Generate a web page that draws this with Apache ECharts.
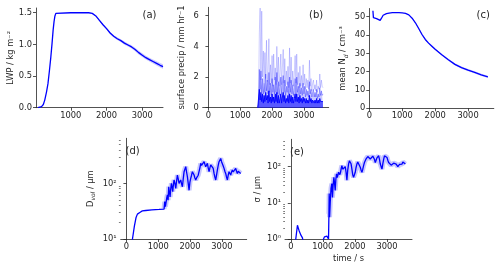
<!DOCTYPE html>
<html>
<head>
<meta charset="utf-8">
<script src="https://cdn.jsdelivr.net/npm/echarts@6/dist/echarts.min.js"></script>
<style>
  html, body { margin: 0; padding: 0; background: #fff; }
  #main { width: 500px; height: 269px; }
</style>
</head>
<body>
<div id="main"></div>
<script>
// (a) liquid water path
var lwpTime = [80, 130, 180, 230, 270, 320, 360, 400, 440, 475, 505, 530, 555, 580, 610, 1000, 1500, 1600, 1700, 1800,
               1900, 2000, 2100, 2200, 2300, 2400, 2500, 2600, 2700, 2800, 2900, 3000, 3100, 3200, 3300, 3400, 3500, 3580];
var lwpValue = [0, 0.003, 0.016, 0.05, 0.12, 0.25, 0.38, 0.58, 0.8, 1.02, 1.23, 1.36, 1.45, 1.49, 1.5, 1.5, 1.5, 1.49, 1.45, 1.38,
                1.31, 1.25, 1.18, 1.13, 1.09, 1.06, 1.02, 0.99, 0.96, 0.92, 0.87, 0.83, 0.79, 0.76, 0.73, 0.70, 0.67, 0.65];
var lwpSpread = [0, 0, 0, 0, 0, 0, 0, 0, 0, 0, 0, 0, 0, 0, 0, 0, 0, 0.005, 0.01, 0.012,
                 0.015, 0.018, 0.02, 0.02, 0.022, 0.022, 0.024, 0.025, 0.025, 0.027, 0.028, 0.03, 0.03, 0.03, 0.032, 0.033, 0.035, 0.035];

// (b) surface precipitation
var precipTime = [1550, 1575, 1600, 1625, 1650, 1675, 1700, 1725, 1750, 1775, 1800, 1825, 1850, 1875, 1900, 1925, 1950, 1975, 2000, 2025,
                  2050, 2075, 2100, 2125, 2150, 2175, 2200, 2225, 2250, 2275, 2300, 2325, 2350, 2375, 2400, 2425, 2450, 2475, 2500, 2525,
                  2550, 2575, 2600, 2625, 2650, 2675, 2700, 2725, 2750, 2775, 2800, 2825, 2850, 2875, 2900, 2925, 2950, 2975, 3000, 3025,
                  3050, 3075, 3100, 3125, 3150, 3175, 3200, 3225, 3250, 3275, 3300, 3325, 3350, 3375, 3400, 3425, 3450, 3475, 3500, 3525,
                  3550, 3575, 3600];
var precipMax = [0, 0.3, 4.9, 6.5, 1.8, 6.3, 2.0, 3.7, 1.6, 3.6, 1.9, 4.4, 1.7, 2.4, 4.5, 1.5, 2.8, 1.6, 3.4, 1.4,
                 3.5, 1.8, 2.6, 1.5, 4.0, 1.7, 3.3, 1.4, 2.3, 3.5, 1.5, 2.6, 3.8, 1.6, 3.2, 1.4, 2.4, 1.5, 2.7, 1.3,
                 3.9, 1.6, 3.3, 1.5, 2.4, 1.4, 2.2, 3.4, 1.6, 3.5, 1.5, 2.3, 1.3, 2.7, 1.4, 2.1, 1.3, 2.8, 1.5, 2.2,
                 1.2, 1.9, 1.3, 1.8, 1.2, 3.1, 1.4, 1.9, 1.1, 1.6, 1.8, 1.2, 1.5, 1.1, 1.8, 1.0, 1.4, 1.2, 2.2, 1.3,
                 1.8, 1.4, 1.3];
var precipHigh = [0, 0.2, 2.5, 1.2, 2.4, 1.0, 1.9, 0.9, 1.6, 1.0, 2.2, 1.1, 1.8, 0.9, 2.3, 1.0, 1.6, 0.8, 1.9, 1.0,
                  1.5, 0.9, 2.0, 1.0, 2.3, 0.9, 1.7, 0.8, 1.5, 2.0, 0.9, 1.6, 2.1, 1.0, 1.8, 0.8, 1.4, 1.0, 1.7, 0.8,
                  2.0, 1.0, 1.8, 0.9, 1.5, 0.8, 1.3, 1.9, 0.9, 2.0, 1.0, 1.4, 0.8, 1.6, 0.9, 1.3, 0.8, 1.6, 0.9, 1.4,
                  0.7, 1.2, 0.8, 1.1, 0.7, 1.7, 0.9, 1.2, 0.7, 1.0, 1.2, 0.7, 1.0, 0.7, 1.2, 0.6, 0.9, 0.7, 1.3, 0.8,
                  1.1, 0.8, 0.9];
var precipMean = [0, 0.1, 1.2, 0.5, 1.0, 0.4, 0.9, 0.3, 0.8, 0.4, 1.0, 0.5, 0.8, 0.3, 1.1, 0.4, 0.7, 0.3, 0.9, 0.4,
                  0.7, 0.3, 0.9, 0.4, 1.0, 0.3, 0.8, 0.3, 0.6, 0.9, 0.3, 0.7, 1.0, 0.4, 0.8, 0.3, 0.6, 0.4, 0.8, 0.3,
                  0.9, 0.4, 0.8, 0.3, 0.7, 0.3, 0.6, 0.9, 0.4, 0.9, 0.4, 0.7, 0.3, 0.8, 0.4, 0.6, 0.3, 0.7, 0.4, 0.6,
                  0.3, 0.6, 0.3, 0.5, 0.3, 0.8, 0.4, 0.6, 0.3, 0.5, 0.6, 0.3, 0.5, 0.3, 0.6, 0.3, 0.5, 0.3, 0.6, 0.4,
                  0.5, 0.3, 0.4];

// (c) mean droplet number
var ndTime = [110, 125, 150, 220, 280, 330, 370, 420, 470, 520, 600, 700, 800, 900, 1000, 1100, 1200, 1300, 1400, 1500,
              1600, 1700, 1800, 1900, 2000, 2200, 2400, 2600, 2800, 3000, 3200, 3400, 3600];
var ndValue = [53.3, 49.5, 49.3, 49.0, 48.5, 48.0, 49.2, 50.8, 51.4, 51.7, 52.0, 52.2, 52.2, 52.2, 52.1, 51.8, 51.0, 49.2, 46.7, 43.6,
               40.3, 37.6, 35.6, 33.9, 32.2, 29.3, 26.5, 24.0, 22.2, 20.8, 19.6, 18.3, 17.2];
var ndSpread = [0, 0, 0, 0, 0, 0, 0, 0, 0, 0, 0, 0, 0, 0, 0, 0, 0, 0.2, 0.3, 0.4,
                0.5, 0.5, 0.5, 0.5, 0.5, 0.5, 0.6, 0.6, 0.6, 0.6, 0.6, 0.6, 0.6];

// (d) volume mean diameter
var dTime = [150, 190, 250, 300, 345, 420, 500, 607, 800, 1026, 1183, 1204, 1225, 1246, 1267, 1288, 1309, 1330, 1351, 1372,
             1393, 1414, 1435, 1455, 1476, 1497, 1523, 1550, 1576, 1602, 1628, 1654, 1680, 1707, 1733, 1759, 1785, 1812, 1838, 1864,
             1890, 1916, 1942, 1969, 1995, 2021, 2047, 2073, 2100, 2126, 2152, 2178, 2204, 2230, 2256, 2283, 2309, 2335, 2361, 2387,
             2413, 2440, 2466, 2492, 2518, 2544, 2570, 2597, 2623, 2649, 2675, 2702, 2728, 2754, 2780, 2806, 2832, 2859, 2885, 2911,
             2937, 2963, 2990, 3016, 3042, 3068, 3094, 3120, 3146, 3173, 3199, 3225, 3251, 3277, 3303, 3330, 3356, 3382, 3408, 3434,
             3460, 3487, 3513, 3539, 3565, 3592];
var dVol = [5, 10, 17, 24, 28, 30, 32, 32.5, 33.3, 34, 34.5, 47, 38, 35.5, 55, 62, 50, 87, 70, 57,
            80, 100, 85, 71, 95, 115, 100, 81, 110, 141, 120, 100, 108, 115, 98, 87, 120, 162, 180, 199,
            160, 132, 100, 75, 105, 123, 140, 162, 150, 141, 125, 115, 125, 132, 140, 151, 190, 229, 210, 199,
            220, 245, 220, 199, 215, 229, 190, 162, 190, 214, 222, 229, 185, 151, 130, 115, 140, 174, 210, 245,
            265, 280, 245, 229, 205, 186, 165, 151, 130, 115, 140, 162, 150, 141, 160, 174, 160, 151, 170, 186,
            165, 151, 165, 174, 160, 151];

// (e) spectral width
var eTime = [140, 156, 208, 235, 260, 290, 312, 340, 365, 390, 415, 440, 980, 1021, 1052, 1090, 1125, 1160, 1177, 1190,
             1198, 1210, 1230, 1255, 1281, 1300, 1320, 1344, 1365, 1385, 1406, 1427, 1448, 1469, 1490, 1510, 1531, 1552, 1573, 1594,
             1620, 1646, 1672, 1698, 1724, 1750, 1776, 1802, 1828, 1854, 1880, 1906, 1932, 1958, 1984, 2010, 2036, 2062, 2088, 2115,
             2141, 2167, 2193, 2219, 2245, 2271, 2297, 2323, 2349, 2375, 2401, 2427, 2453, 2479, 2505, 2531, 2557, 2583, 2609, 2635,
             2661, 2687, 2713, 2740, 2766, 2792, 2818, 2844, 2870, 2896, 2922, 2948, 2974, 3000, 3026, 3052, 3078, 3104, 3130, 3156,
             3182, 3208, 3234, 3260, 3286, 3312, 3338, 3365, 3391, 3417, 3443, 3469, 3495, 3521, 3547, 3573];
var eSigma = [0.5, 1.0, 2.4, 2.0, 1.7, 1.5, 1.3, 1.2, 1.07, 1.15, 1.0, 0.4, 0.4, 1.0, 1.15, 1.18, 1.2, 1.15, 1.0, 5,
              18, 4, 10, 25, 34, 14, 30, 51, 35, 22, 45, 63, 50, 58, 70, 78, 60, 70, 90, 107,
              85, 78, 95, 100, 70, 42, 80, 118, 145, 150, 120, 86, 60, 51, 60, 70, 95, 118, 135, 145,
              120, 96, 80, 70, 85, 107, 130, 145, 165, 179, 190, 200, 180, 163, 170, 179, 195, 190, 160, 130,
              150, 175, 190, 200, 160, 118, 100, 86, 120, 160, 200, 220, 200, 180, 150, 130, 120, 118, 110, 118,
              100, 125, 120, 130, 118, 110, 100, 96, 115, 130, 120, 118, 135, 130, 120, 118];

var timeTicks = [0, 1000, 2000, 3000];
var lwpTicks = [0, 0.5, 1.0, 1.5];
var precipTicks = [0, 2, 4, 6];
var ndTicks = [0, 10, 20, 30, 40, 50];
var dTicks = [10, 100];
var eTicks = [1, 10, 100];
var dMinorTicks = [20, 30, 40, 50, 60, 70, 80, 90, 200, 300, 400, 500, 600];
var eMinorTicks = [2, 3, 4, 5, 6, 7, 8, 9, 20, 30, 40, 50, 60, 70, 80, 90, 200, 300, 400, 500];

var blue = '#0000ff';
var bandColor = 'rgba(0,0,255,0.22)';
var ink = '#262626';
var font = 'DejaVu Sans';
var fs = 8.3;

function pairs(xs, ys) {
    return xs.map(function (x, i) { return [x, ys[i]]; });
}
var supers = {'0': '⁰', '1': '¹', '2': '²', '3': '³'};
function powLabel(v) {
    var p = Math.round(Math.log10(v));
    return '10' + supers[String(p)];
}
function plain(v) { return String(v); }

function xAxis(grid, min, max, ticks, name) {
    return {
        type: 'value', gridIndex: grid, min: min, max: max,
        name: name || '', nameLocation: 'middle', nameGap: 16,
        nameTextStyle: {fontFamily: font, fontSize: fs, color: ink},
        axisLine: {lineStyle: {color: ink, width: 0.8}},
        axisTick: {show: true, length: 3, customValues: ticks, lineStyle: {color: ink, width: 0.8}},
        axisLabel: {customValues: ticks, margin: 4, fontFamily: font, fontSize: fs, color: ink, formatter: plain},
        splitLine: {show: false}
    };
}
function yAxis(grid, min, max, ticks, name, gap, fmt, rich) {
    return {
        type: 'value', gridIndex: grid, min: min, max: max,
        name: name, nameLocation: 'middle', nameGap: gap, nameRotate: 90,
        nameTextStyle: {fontFamily: font, fontSize: fs, color: ink, rich: rich},
        axisLine: {show: true, lineStyle: {color: ink, width: 0.8}},
        axisTick: {show: true, length: 3, customValues: ticks, lineStyle: {color: ink, width: 0.8}},
        axisLabel: {customValues: ticks, margin: 4, fontFamily: font, fontSize: fs, color: ink, formatter: fmt || plain},
        splitLine: {show: false}
    };
}
function logAxis(grid, min, max, ticks, name, gap, rich) {
    return {
        type: 'log', logBase: 10, gridIndex: grid, min: min, max: max,
        name: name, nameLocation: 'middle', nameGap: gap, nameRotate: 90,
        nameTextStyle: {fontFamily: font, fontSize: fs, color: ink, rich: rich},
        axisLine: {show: true, lineStyle: {color: ink, width: 0.8}},
        axisTick: {show: true, length: 3, customValues: ticks, lineStyle: {color: ink, width: 0.8}},
        axisLabel: {customValues: ticks, margin: 4, fontFamily: font, fontSize: fs, color: ink, formatter: powLabel},
        splitLine: {show: false}
    };
}
function minorAxis(grid, min, max, ticks) {
    return {
        type: 'log', logBase: 10, gridIndex: grid, min: min, max: max, position: 'left',
        axisLine: {show: false},
        axisTick: {show: true, length: 1.8, customValues: ticks, lineStyle: {color: ink, width: 0.6}},
        axisLabel: {show: false},
        splitLine: {show: false}
    };
}
var subRich = {
    n: {fontFamily: font, fontSize: fs, color: ink, lineHeight: 10},
    s: {fontFamily: font, fontSize: 6, fontStyle: 'italic', color: ink, lineHeight: 7, padding: [5, 0, 0, 0], verticalAlign: 'top'}
};

function line(xi, yi, data, extra) {
    var s = {
        type: 'line', xAxisIndex: xi, yAxisIndex: yi, data: data,
        symbol: 'none', silent: true, animation: false,
        lineStyle: {color: blue, width: 1.3}
    };
    for (var k in extra) s[k] = extra[k];
    return s;
}
// shaded spread around a curve, drawn as one polygon
function band(xi, yi, xs, ys, spread) {
    var upper = pairs(xs, ys.map(function (v, i) { return v + spread[i]; }));
    var lower = pairs(xs, ys.map(function (v, i) { return v - spread[i]; })).reverse();
    var outline = upper.concat(lower);
    return {
        type: 'custom', xAxisIndex: xi, yAxisIndex: yi, silent: true, animation: false,
        data: [[xs[0], ys[0]]],
        renderItem: function (params, api) {
            return {
                type: 'polygon',
                shape: {points: outline.map(function (p) { return api.coord(p); })},
                style: {fill: bandColor}
            };
        }
    };
}

var chart = echarts.init(document.getElementById('main'), null, {renderer: 'canvas'});
var labelStyle = {fontFamily: font, fontSize: 10, fontWeight: 'normal', color: ink};
var option = {
    backgroundColor: '#fff',
    animation: false,
    title: [
        {text: '(a)', left: 142.5, top: 10.5, padding: 0, textStyle: labelStyle},
        {text: '(b)', left: 309, top: 10.5, padding: 0, textStyle: labelStyle},
        {text: '(c)', left: 476.5, top: 10.5, padding: 0, textStyle: labelStyle},
        {text: '(d)', left: 125.5, top: 146, padding: 0, textStyle: labelStyle},
        {text: '(e)', left: 290, top: 147, padding: 0, textStyle: labelStyle}
    ],
    grid: [
        {left: 36, top: 8, width: 127, height: 99.7},
        {left: 202.7, top: 7.3, width: 126, height: 100.4},
        {left: 369.3, top: 8.5, width: 124.5, height: 99.8},
        {left: 120.7, top: 138.3, width: 126, height: 100.7},
        {left: 285, top: 139.3, width: 127, height: 99.7}
    ],
    xAxis: [
        xAxis(0, 25, 3580, [1000, 2000, 3000]),
        xAxis(1, -180, 3780, timeTicks),
        xAxis(2, 0, 3780, timeTicks),
        xAxis(3, -180, 3780, timeTicks),
        xAxis(4, -180, 3780, timeTicks, 'time / s')
    ],
    yAxis: [
        yAxis(0, 0, 1.575, lwpTicks, 'LWP / kg m⁻²', 20, function (v) { return v.toFixed(1); }),
        yAxis(1, 0, 6.55, precipTicks, 'surface precip / mm hr⁻1', 17),
        yAxis(2, 0, 54.5, ndTicks, '{n|mean N}{s|d}{n| / cm⁻³}', 21, null, subRich),
        logAxis(3, 10, 645, dTicks, '{n|D}{s|vol}{n| / μm}', 25, subRich),
        logAxis(4, 1, 571, eTicks, 'σ / μm', 23.5),
        minorAxis(3, 10, 645, dMinorTicks),
        minorAxis(4, 1, 571, eMinorTicks)
    ],
    series: [
        band(0, 0, lwpTime, lwpValue, lwpSpread),
        line(0, 0, pairs(lwpTime, lwpValue)),
        line(1, 1, pairs(precipTime, precipMax), {lineStyle: {color: 'rgba(0,0,255,0.28)', width: 0.7}}),
        line(1, 1, pairs(precipTime, precipHigh), {lineStyle: {color: 'rgba(0,0,255,0.45)', width: 0.7}, areaStyle: {color: 'rgba(0,0,255,0.3)'}}),
        line(1, 1, pairs(precipTime, precipMean), {lineStyle: {color: blue, width: 0.9}, areaStyle: {color: 'rgba(0,0,255,0.8)'}}),
        band(2, 2, ndTime, ndValue, ndSpread),
        line(2, 2, pairs(ndTime, ndValue)),
        line(3, 3, pairs(dTime, dVol).filter(function (p) { return p[0] >= 1150; }), {lineStyle: {color: bandColor, width: 5}}),
        line(3, 3, pairs(dTime, dVol)),
        line(4, 4, pairs(eTime, eSigma).filter(function (p) { return p[0] >= 1180; }), {lineStyle: {color: bandColor, width: 5}}),
        line(4, 4, pairs(eTime, eSigma))
    ]
};
chart.setOption(option);
</script>
</body>
</html>
